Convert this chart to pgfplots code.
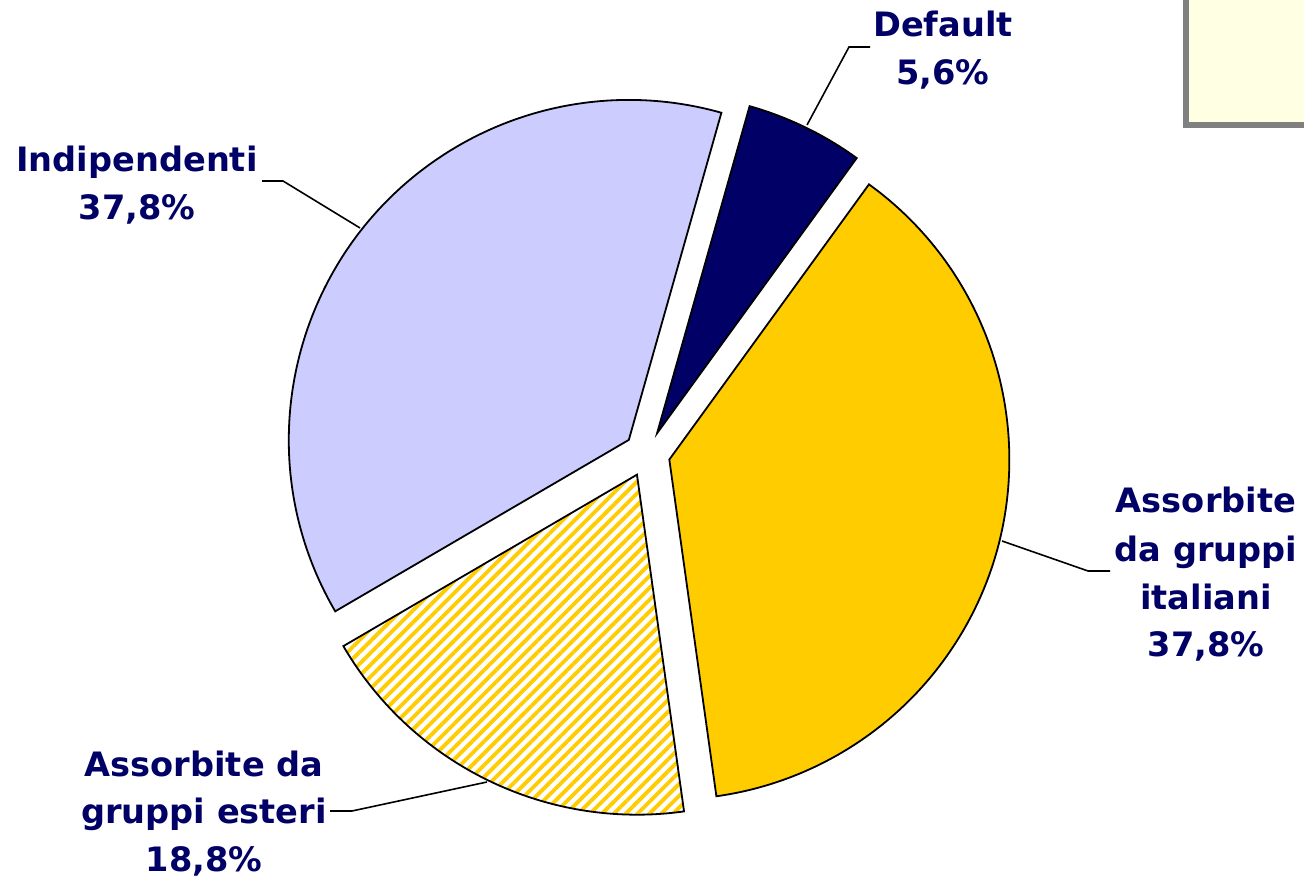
\documentclass[border=0pt]{standalone}
\usepackage{pgfplots}
\usepackage{pgfplotstable}
\pgfplotsset{compat=1.18}
\usetikzlibrary{calc,patterns.meta}
\usepackage{fontspec}
\setmainfont{DejaVu Sans}
\definecolor{navy}{HTML}{000066}
\definecolor{lav}{HTML}{CCCCFF}
\definecolor{gold}{HTML}{FFCC00}
\definecolor{boxy}{HTML}{FFFFE3}
\definecolor{boxg}{HTML}{808080}

\pgfplotstableread{
label value
Default 5.6
Italiani 37.8
Esteri 18.8
Indipendenti 37.8
}\piedata
\pgfplotstablegetelem{0}{value}\of\piedata \let\vA\pgfplotsretval
\pgfplotstablegetelem{1}{value}\of\piedata \let\vB\pgfplotsretval
\pgfplotstablegetelem{2}{value}\of\piedata \let\vC\pgfplotsretval
\pgfplotstablegetelem{3}{value}\of\piedata \let\vD\pgfplotsretval
% angles (clockwise from start angle)
\pgfmathsetmacro{\aA}{74.2}
\pgfmathsetmacro{\aB}{\aA-3.6*\vA}
\pgfmathsetmacro{\aC}{\aB-3.6*\vB}
\pgfmathsetmacro{\aD}{\aC-3.6*\vC}
\pgfmathsetmacro{\aE}{\aD-3.6*\vD}
\pgfmathsetmacro{\mA}{(\aA+\aB)/2}
\pgfmathsetmacro{\mB}{(\aB+\aC)/2}
\pgfmathsetmacro{\mC}{(\aC+\aD)/2}
\pgfmathsetmacro{\mD}{(\aD+\aE)/2}

\newcommand{\lbl}{\fontsize{16.8}{24}\selectfont\bfseries}

\begin{document}
\begin{tikzpicture}
\begin{axis}[name=ax, x=0.5pt, y=0.5pt, xmin=0, xmax=1304, ymin=0, ymax=881,
  hide axis, clip=false]
% legend remnant box
\fill[boxg] (axis cs:1183,753) rectangle (axis cs:1304,881);
\fill[boxy] (axis cs:1189,759) rectangle (axis cs:1304,881);
% slices
\filldraw[fill=navy, draw=black, line width=0.9pt]
  ($(axis cs:647,427)+(\mA:11.5pt)$) -- ++(\aA:170pt) arc[start angle=\aA, end angle=\aB, radius=170pt] -- cycle;
\filldraw[fill=gold, draw=black, line width=0.9pt]
  ($(axis cs:647,427)+(\mB:11.5pt)$) -- ++(\aB:170pt) arc[start angle=\aB, end angle=\aC, radius=170pt] -- cycle;
\filldraw[preaction={fill=white}, pattern={Lines[angle=45, distance=4.2pt, line width=1.9pt]}, pattern color=gold, draw=black, line width=0.9pt]
  ($(axis cs:647,427)+(\mC:11.5pt)$) -- ++(\aC:170pt) arc[start angle=\aC, end angle=\aD, radius=170pt] -- cycle;
\filldraw[fill=lav, draw=black, line width=0.9pt]
  ($(axis cs:647,427)+(\mD:11.5pt)$) -- ++(\aD:170pt) arc[start angle=\aD, end angle=\aE, radius=170pt] -- cycle;
% leader lines
\draw[line width=0.8pt] (axis cs:807,756) -- (axis cs:849,834) -- (axis cs:870,834);
\draw[line width=0.8pt] (axis cs:262,700) -- (axis cs:283,700) -- (axis cs:360,653);
\draw[line width=0.8pt] (axis cs:1002,340) -- (axis cs:1088,310) -- (axis cs:1110,310);
\draw[line width=0.8pt] (axis cs:487,99) -- (axis cs:352,70) -- (axis cs:330,70);
% labels
\begin{scope}[every node/.style={anchor=base, inner sep=0pt, text=navy, font=\lbl}]
\node at (axis cs:943,844) {Default};
\node at (axis cs:943,796) {5,6\%};
\node at (axis cs:137,709) {Indipendenti};
\node at (axis cs:137,661) {37,8\%};
\node at (axis cs:1206,368) {Assorbite};
\node at (axis cs:1206,319) {da gruppi};
\node at (axis cs:1206,271) {italiani};
\node at (axis cs:1206,224) {37,8\%};
\node at (axis cs:204,104) {Assorbite da};
\node at (axis cs:204,57) {gruppi esteri};
\node at (axis cs:204,9) {18,8\%};
\end{scope}
\end{axis}
\pgfresetboundingbox
\path[use as bounding box] (ax.south west) rectangle (ax.north east);
\end{tikzpicture}
\end{document}
